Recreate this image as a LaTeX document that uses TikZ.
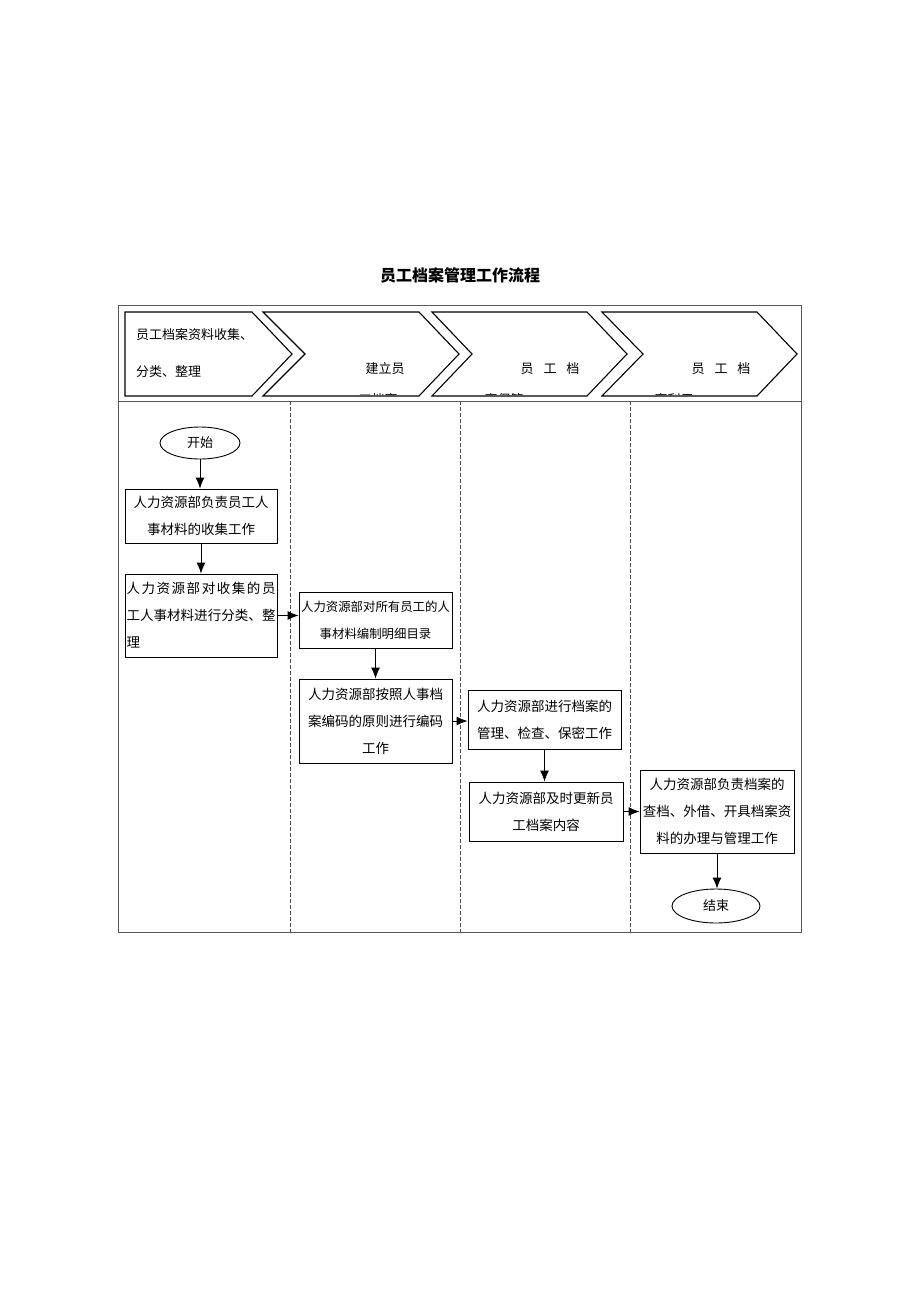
\documentclass[tikz,border=0pt]{standalone}
\usepackage{fontspec}
\setmainfont{Noto Sans CJK SC}
\usetikzlibrary{arrows.meta,shapes.geometric}
\def\jst#1#2\relax{#1\ifx\relax#2\relax\else\hfill\jst#2\relax\fi}
\begin{document}
\begin{tikzpicture}[x=1pt,y=-1pt,
  flowbox/.style={draw,line width=0.9pt,inner sep=0pt,align=center,font=\fontsize{13.5}{27}\selectfont},
  term/.style={draw,ellipse,line width=0.9pt,inner sep=0pt,font=\fontsize{13}{15}\selectfont},
  chev/.style={draw,line width=1.1pt},
  lane/.style={draw=black!70,line width=0.7pt,dash pattern=on 4pt off 2pt},
  frame/.style={draw=black!65,line width=0.9pt},
  arr/.style={draw,line width=0.9pt,-{Latex[length=11pt,width=9pt]}},
  ctext/.style={inner sep=0pt,font=\fontsize{13}{15}\selectfont}]
\useasboundingbox (0,0) rectangle (920,1302);
\fill[white] (0,0) rectangle (920,1302);
% title
\node[font=\fontsize{16}{18}\selectfont\bfseries] (title) at (460,275) {员工档案管理工作流程};
% frame
\draw[frame] (118,305) rectangle (801,932);
\draw[frame] (118,401) -- (801,401);
\draw[lane] (290,401) -- (290,932);
\draw[lane] (460,401) -- (460,932);
\draw[lane] (630,401) -- (630,932);
% chevrons
\draw[chev] (125,312) -- (252,312) -- (292,354) -- (252,396) -- (125,396) -- cycle;
\draw[chev] (263,312) -- (419,312) -- (459,354) -- (419,396) -- (263,396) -- (305,354) -- cycle;
\draw[chev] (432,312) -- (587,312) -- (627,354) -- (587,396) -- (432,396) -- (472,354) -- cycle;
\draw[chev] (602,312) -- (757,312) -- (797,354) -- (757,396) -- (602,396) -- (643,354) -- cycle;
\node[ctext,anchor=west] (c1a) at (136,335) {员工档案资料收集、};
\node[ctext,anchor=west] (c1b) at (136,372) {分类、整理};
\node[ctext] (c2a) at (385,369) {建立员};
\node[ctext] (c3a) at (550,369) {员\hspace{10pt}工\hspace{10pt}档};
\node[ctext] (c4a) at (721,369) {员\hspace{10pt}工\hspace{10pt}档};
\begin{scope}
\clip (263,312) -- (419,312) -- (459,354) -- (419,394.5) -- (263,394.5) -- (305,354) -- cycle;
\node[ctext] (c2b) at (378,400) {工档案};
\end{scope}
\begin{scope}
\clip (432,312) -- (587,312) -- (627,354) -- (587,394.5) -- (432,394.5) -- (472,354) -- cycle;
\node[ctext] (c3b) at (504,400) {案保管};
\end{scope}
\begin{scope}
\clip (602,312) -- (757,312) -- (797,354) -- (757,394.5) -- (602,394.5) -- (643,354) -- cycle;
\node[ctext] (c4b) at (674,400) {案利用};
\end{scope}
% flow
\node[term,minimum width=80pt,minimum height=32pt] (start) at (200,443) {开始};
\node[flowbox,minimum width=152pt,minimum height=54pt] (a) at (201,516) {人力资源部负责员工人\\事材料的收集工作};
\node[flowbox,align=left,minimum width=152pt,minimum height=83pt] (b) at (201,615.5)
  {\makebox[149pt]{\jst 人力资源部对收集的员\relax}\\\makebox[149pt]{\jst 工人事材料进行分类、整\relax}\\理};
\node[flowbox,minimum width=153pt,minimum height=56pt,font=\fontsize{12.4}{27}\selectfont] (c) at (375.5,620) {人力资源部对所有员工的人\\事材料编制明细目录};
\node[flowbox,minimum width=153pt,minimum height=84pt] (d) at (375.5,721) {人力资源部按照人事档\\案编码的原则进行编码\\工作};
\node[flowbox,minimum width=153pt,minimum height=59pt] (e) at (544.5,719.5) {人力资源部进行档案的\\管理、检查、保密工作};
\node[flowbox,minimum width=154pt,minimum height=59pt] (f) at (546,811.5) {人力资源部及时更新员\\工档案内容};
\node[flowbox,minimum width=154pt,minimum height=83pt] (g) at (717,811.5) {人力资源部负责档案的\\查档、外借、开具档案资\\料的办理与管理工作};
\node[term,minimum width=88pt,minimum height=34pt] (end) at (716,906) {结束};
% connectors
\draw[arr] (start) -- (start |- a.north);
\draw[arr] (a) -- (a |- b.north);
\draw[arr] (b.east) -- (b.east -| c.west);
\draw[arr] (c) -- (c |- d.north);
\draw[arr] (d.east) -- (d.east -| e.west);
\draw[arr] (e) -- (e |- f.north);
\draw[arr] (f.east) -- (f.east -| g.west);
\draw[arr] (g) -- (g |- end.north);
\end{tikzpicture}
\end{document}
